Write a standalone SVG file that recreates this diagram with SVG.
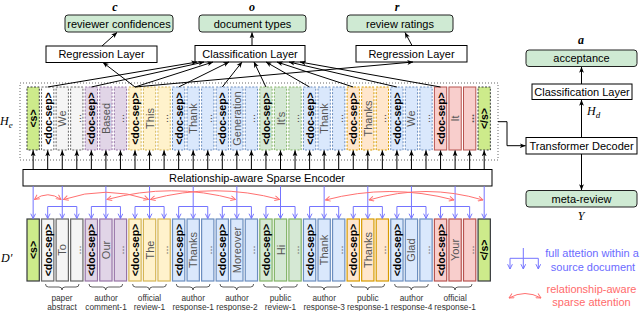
<svg xmlns="http://www.w3.org/2000/svg" width="640" height="311" viewBox="0 0 640 311">
<defs>
<style>
.box{fill:#fff;stroke:#000;stroke-width:1}
.out{fill:#cfead3;stroke:#222;stroke-width:1}
.lbl{font-family:"Liberation Sans",Arial,sans-serif;font-size:11px;fill:#000;text-anchor:middle}
.math{font-family:"Liberation Serif","Times New Roman",serif;font-style:italic;font-size:12px;fill:#000}
.lime{fill:#cdeb8b;stroke:#36393d}
.gray{fill:#f5f5f5;stroke:#666}
.purple{fill:#e1d5e7;stroke:#9673a6}
.yellow{fill:#fff2cc;stroke:#d6b656}
.blue{fill:#dae8fc;stroke:#6c8ebf}
.green{fill:#d5e8d4;stroke:#82b366}
.orange{fill:#ffe6cc;stroke:#d79b00}
.red{fill:#f8cecc;stroke:#b85450}
.top rect{stroke-width:1;stroke-dasharray:2,1.5}
.top rect.red{stroke-dasharray:none}
.bot rect{stroke-width:1.2}
.sep{font-family:"Liberation Sans",Arial,sans-serif;font-weight:bold;font-size:10.5px;fill:#000;text-anchor:middle;dominant-baseline:central}
.w{font-family:"Liberation Sans",Arial,sans-serif;font-size:11px;fill:#555;text-anchor:middle;dominant-baseline:central}
.blk{stroke:#000;stroke-width:1;fill:none;marker-end:url(#ah)}
.bl{stroke:#7474ff;stroke-width:1;fill:none}
.bla{stroke:#7474ff;stroke-width:1;fill:none;marker-end:url(#bh)}
.rd{stroke:#ff7070;stroke-width:1;fill:none;marker-start:url(#rh);marker-end:url(#rh)}
.brace{stroke:#333;stroke-width:0.8;fill:none}
.cap{font-family:"Liberation Sans",Arial,sans-serif;font-size:8.3px;fill:#333;text-anchor:middle}
</style>
<marker id="ah" viewBox="0 0 10 10" refX="9.5" refY="5" markerWidth="6" markerHeight="6" orient="auto" markerUnits="userSpaceOnUse"><path d="M0,1 L10,5 L0,9 L2.5,5 z" fill="#000"/></marker>
<marker id="bh" viewBox="0 0 10 10" refX="9" refY="5" markerWidth="6" markerHeight="6" orient="auto" markerUnits="userSpaceOnUse"><path d="M1,1 L9,5 L1,9" fill="none" stroke="#7474ff" stroke-width="1.6"/></marker>
<marker id="rh" viewBox="0 0 10 10" refX="9" refY="5" markerWidth="6" markerHeight="6" orient="auto-start-reverse" markerUnits="userSpaceOnUse"><path d="M1,1 L9,5 L1,9" fill="none" stroke="#ff7070" stroke-width="1.6"/></marker>
</defs>
<rect width="640" height="311" fill="#fff"/>

<!-- outputs -->
<g id="out-c"><text class="math" x="115" y="10.5" text-anchor="middle" font-weight="bold" font-size="11">c</text><rect class="out" x="65" y="15" width="108" height="17" rx="3"/><text class="lbl" x="119" y="27.5">reviewer confidences</text></g>
<g id="out-o"><text class="math" x="252" y="10.5" text-anchor="middle" font-weight="bold" font-size="11">o</text><rect class="out" x="199" y="15" width="107" height="17" rx="3"/><text class="lbl" x="252.5" y="27.5">document types</text></g>
<g id="out-r"><text class="math" x="397" y="10.5" text-anchor="middle" font-weight="bold" font-size="11">r</text><rect class="out" x="347" y="15" width="106" height="17" rx="3"/><text class="lbl" x="400" y="27.5">review ratings</text></g>
<g id="reg-left"><rect class="box" x="46" y="46" width="111" height="16.5"/><text class="lbl" x="101.5" y="58">Regression Layer</text></g>
<g id="cls"><rect class="box" x="195" y="45.5" width="110" height="16.5"/><text class="lbl" x="250" y="57.5">Classification Layer</text></g>
<g id="reg-right"><rect class="box" x="356" y="45.5" width="111" height="16.5"/><text class="lbl" x="411.5" y="57.5">Regression Layer</text></g>

<!-- right side -->
<g id="out-a"><text class="math" x="581" y="44" text-anchor="middle" font-weight="bold">a</text><rect class="out" x="526" y="50" width="111" height="16.5" rx="3"/><text class="lbl" x="581.5" y="62">acceptance</text></g>
<g id="cls-d"><rect class="box" x="532" y="84" width="100" height="15.5"/><text class="lbl" x="582" y="95.5">Classification Layer</text></g>
<g id="hd"><text class="math" x="587" y="115">H<tspan font-size="9" dy="2.5">d</tspan></text></g>
<g id="dec"><rect class="box" x="526" y="137.5" width="111" height="16.5"/><text class="lbl" x="581.5" y="149.5">Transformer Decoder</text></g>
<g id="meta"><rect class="out" x="526" y="190.5" width="111" height="16.5" rx="3"/><text class="lbl" x="581.5" y="202.5">meta-review</text><text class="math" x="581" y="220" text-anchor="middle">Y</text></g>

<!-- encoder -->
<g id="encoder"><rect class="box" x="23" y="169.5" width="469" height="16.5"/><text class="lbl" x="257" y="181.5">Relationship-aware Sparse Encoder</text></g>

<!-- He -->
<g id="he-label"><text class="math" x="0" y="125">H<tspan font-size="9" dy="2.5">e</tspan></text></g>
<rect x="20" y="83" width="478" height="77" fill="none" stroke="#666" stroke-width="1" stroke-dasharray="1,2"/>
<g class="top">
<g id="he0"><rect class="lime" x="27" y="87" width="12.3" height="63"/><text class="sep" transform="translate(33.15,118.5) rotate(-90)">&lt;s&gt;</text></g>
<g id="he1"><rect class="gray" x="41.55" y="87" width="12.3" height="63" style="fill:#fff"/><text class="sep" transform="translate(47.7,118.5) rotate(-90)">&lt;doc-sep&gt;</text></g>
<g id="he2"><rect class="gray" x="56.1" y="87" width="12.3" height="63"/><text class="w" transform="translate(62.25,118.5) rotate(-90)">We</text></g>
<g id="he3"><rect class="gray" x="70.65" y="87" width="12.3" height="63"/><text class="w" transform="translate(76.8,118.5) rotate(-90)">...</text></g>
<g id="he4"><rect class="purple" x="85.2" y="87" width="12.3" height="63"/><text class="sep" transform="translate(91.35,118.5) rotate(-90)">&lt;doc-sep&gt;</text></g>
<g id="he5"><rect class="purple" x="99.75" y="87" width="12.3" height="63"/><text class="w" transform="translate(105.9,118.5) rotate(-90)">Based</text></g>
<g id="he6"><rect class="purple" x="114.3" y="87" width="12.3" height="63"/><text class="w" transform="translate(120.45,118.5) rotate(-90)">...</text></g>
<g id="he7"><rect class="yellow" x="128.85" y="87" width="12.3" height="63"/><text class="sep" transform="translate(135,118.5) rotate(-90)">&lt;doc-sep&gt;</text></g>
<g id="he8"><rect class="yellow" x="143.4" y="87" width="12.3" height="63"/><text class="w" transform="translate(149.55,118.5) rotate(-90)">This</text></g>
<g id="he9"><rect class="yellow" x="157.95" y="87" width="12.3" height="63"/><text class="w" transform="translate(164.1,118.5) rotate(-90)">...</text></g>
<g id="he10"><rect class="blue" x="172.5" y="87" width="12.3" height="63"/><text class="sep" transform="translate(178.65,118.5) rotate(-90)">&lt;doc-sep&gt;</text></g>
<g id="he11"><rect class="blue" x="187.05" y="87" width="12.3" height="63"/><text class="w" transform="translate(193.2,118.5) rotate(-90)">Thank</text></g>
<g id="he12"><rect class="blue" x="201.6" y="87" width="12.3" height="63"/><text class="w" transform="translate(207.75,118.5) rotate(-90)">...</text></g>
<g id="he13"><rect class="blue" x="216.15" y="87" width="12.3" height="63"/><text class="sep" transform="translate(222.3,118.5) rotate(-90)">&lt;doc-sep&gt;</text></g>
<g id="he14"><rect class="blue" x="230.7" y="87" width="12.3" height="63"/><text class="w" transform="translate(236.85,118.5) rotate(-90)">Generation</text></g>
<g id="he15"><rect class="blue" x="245.25" y="87" width="12.3" height="63"/><text class="w" transform="translate(251.4,118.5) rotate(-90)">...</text></g>
<g id="he16"><rect class="green" x="259.8" y="87" width="12.3" height="63"/><text class="sep" transform="translate(265.95,118.5) rotate(-90)">&lt;doc-sep&gt;</text></g>
<g id="he17"><rect class="green" x="274.35" y="87" width="12.3" height="63"/><text class="w" transform="translate(280.5,118.5) rotate(-90)">It's</text></g>
<g id="he18"><rect class="green" x="288.9" y="87" width="12.3" height="63"/><text class="w" transform="translate(295.05,118.5) rotate(-90)">...</text></g>
<g id="he19"><rect class="blue" x="303.45" y="87" width="12.3" height="63"/><text class="sep" transform="translate(309.6,118.5) rotate(-90)">&lt;doc-sep&gt;</text></g>
<g id="he20"><rect class="blue" x="318" y="87" width="12.3" height="63"/><text class="w" transform="translate(324.15,118.5) rotate(-90)">Thank</text></g>
<g id="he21"><rect class="blue" x="332.55" y="87" width="12.3" height="63"/><text class="w" transform="translate(338.7,118.5) rotate(-90)">...</text></g>
<g id="he22"><rect class="orange" x="347.1" y="87" width="12.3" height="63"/><text class="sep" transform="translate(353.25,118.5) rotate(-90)">&lt;doc-sep&gt;</text></g>
<g id="he23"><rect class="orange" x="361.65" y="87" width="12.3" height="63"/><text class="w" transform="translate(367.8,118.5) rotate(-90)">Thanks</text></g>
<g id="he24"><rect class="orange" x="376.2" y="87" width="12.3" height="63"/><text class="w" transform="translate(382.35,118.5) rotate(-90)">...</text></g>
<g id="he25"><rect class="blue" x="390.75" y="87" width="12.3" height="63"/><text class="sep" transform="translate(396.9,118.5) rotate(-90)">&lt;doc-sep&gt;</text></g>
<g id="he26"><rect class="blue" x="405.3" y="87" width="12.3" height="63"/><text class="w" transform="translate(411.45,118.5) rotate(-90)">We</text></g>
<g id="he27"><rect class="blue" x="419.85" y="87" width="12.3" height="63"/><text class="w" transform="translate(426,118.5) rotate(-90)">...</text></g>
<g id="he28"><rect class="red" x="434.4" y="87" width="12.3" height="63"/><text class="sep" transform="translate(440.55,118.5) rotate(-90)">&lt;doc-sep&gt;</text></g>
<g id="he29"><rect class="red" x="448.95" y="87" width="12.3" height="63"/><text class="w" transform="translate(455.1,118.5) rotate(-90)">It</text></g>
<g id="he30"><rect class="red" x="463.5" y="87" width="12.3" height="63"/><text class="w" transform="translate(469.65,118.5) rotate(-90)" style="font-weight:bold">...</text></g>
<g id="he31"><rect class="lime" x="478.05" y="87" width="12.3" height="63"/><text class="sep" transform="translate(484.2,118.5) rotate(-90)">&lt;/s&gt;</text></g>
</g>

<!-- D' -->
<g id="d-label"><text class="math" x="1" y="262" font-size="13">D′</text></g>
<g class="bot">
<g id="d0"><rect class="lime" x="27" y="219" width="12.3" height="62"/><text class="sep" transform="translate(33.15,250) rotate(-90)">&lt;s&gt;</text></g>
<g id="d1"><rect class="gray" x="41.55" y="219" width="12.3" height="62"/><text class="sep" transform="translate(47.7,250) rotate(-90)">&lt;doc-sep&gt;</text></g>
<g id="d2"><rect class="gray" x="56.1" y="219" width="12.3" height="62"/><text class="w" transform="translate(62.25,250) rotate(-90)">To</text></g>
<g id="d3"><rect class="gray" x="70.65" y="219" width="12.3" height="62"/><text class="w" transform="translate(76.8,250) rotate(-90)">...</text></g>
<g id="d4"><rect class="purple" x="85.2" y="219" width="12.3" height="62"/><text class="sep" transform="translate(91.35,250) rotate(-90)">&lt;doc-sep&gt;</text></g>
<g id="d5"><rect class="purple" x="99.75" y="219" width="12.3" height="62"/><text class="w" transform="translate(105.9,250) rotate(-90)">Our</text></g>
<g id="d6"><rect class="purple" x="114.3" y="219" width="12.3" height="62"/><text class="w" transform="translate(120.45,250) rotate(-90)">...</text></g>
<g id="d7"><rect class="yellow" x="128.85" y="219" width="12.3" height="62"/><text class="sep" transform="translate(135,250) rotate(-90)">&lt;doc-sep&gt;</text></g>
<g id="d8"><rect class="yellow" x="143.4" y="219" width="12.3" height="62"/><text class="w" transform="translate(149.55,250) rotate(-90)">The</text></g>
<g id="d9"><rect class="yellow" x="157.95" y="219" width="12.3" height="62"/><text class="w" transform="translate(164.1,250) rotate(-90)">...</text></g>
<g id="d10"><rect class="blue" x="172.5" y="219" width="12.3" height="62"/><text class="sep" transform="translate(178.65,250) rotate(-90)">&lt;doc-sep&gt;</text></g>
<g id="d11"><rect class="blue" x="187.05" y="219" width="12.3" height="62"/><text class="w" transform="translate(193.2,250) rotate(-90)">Thanks</text></g>
<g id="d12"><rect class="blue" x="201.6" y="219" width="12.3" height="62"/><text class="w" transform="translate(207.75,250) rotate(-90)">...</text></g>
<g id="d13"><rect class="blue" x="216.15" y="219" width="12.3" height="62"/><text class="sep" transform="translate(222.3,250) rotate(-90)">&lt;doc-sep&gt;</text></g>
<g id="d14"><rect class="blue" x="230.7" y="219" width="12.3" height="62"/><text class="w" transform="translate(236.85,250) rotate(-90)">Moreover</text></g>
<g id="d15"><rect class="blue" x="245.25" y="219" width="12.3" height="62"/><text class="w" transform="translate(251.4,250) rotate(-90)">...</text></g>
<g id="d16"><rect class="green" x="259.8" y="219" width="12.3" height="62"/><text class="sep" transform="translate(265.95,250) rotate(-90)">&lt;doc-sep&gt;</text></g>
<g id="d17"><rect class="green" x="274.35" y="219" width="12.3" height="62"/><text class="w" transform="translate(280.5,250) rotate(-90)">Hi</text></g>
<g id="d18"><rect class="green" x="288.9" y="219" width="12.3" height="62"/><text class="w" transform="translate(295.05,250) rotate(-90)">...</text></g>
<g id="d19"><rect class="blue" x="303.45" y="219" width="12.3" height="62"/><text class="sep" transform="translate(309.6,250) rotate(-90)">&lt;doc-sep&gt;</text></g>
<g id="d20"><rect class="blue" x="318" y="219" width="12.3" height="62"/><text class="w" transform="translate(324.15,250) rotate(-90)">Thank</text></g>
<g id="d21"><rect class="blue" x="332.55" y="219" width="12.3" height="62"/><text class="w" transform="translate(338.7,250) rotate(-90)">...</text></g>
<g id="d22"><rect class="orange" x="347.1" y="219" width="12.3" height="62"/><text class="sep" transform="translate(353.25,250) rotate(-90)">&lt;doc-sep&gt;</text></g>
<g id="d23"><rect class="orange" x="361.65" y="219" width="12.3" height="62"/><text class="w" transform="translate(367.8,250) rotate(-90)">Thanks</text></g>
<g id="d24"><rect class="orange" x="376.2" y="219" width="12.3" height="62"/><text class="w" transform="translate(382.35,250) rotate(-90)">...</text></g>
<g id="d25"><rect class="blue" x="390.75" y="219" width="12.3" height="62"/><text class="sep" transform="translate(396.9,250) rotate(-90)">&lt;doc-sep&gt;</text></g>
<g id="d26"><rect class="blue" x="405.3" y="219" width="12.3" height="62"/><text class="w" transform="translate(411.45,250) rotate(-90)">Glad</text></g>
<g id="d27"><rect class="blue" x="419.85" y="219" width="12.3" height="62"/><text class="w" transform="translate(426,250) rotate(-90)">...</text></g>
<g id="d28"><rect class="red" x="434.4" y="219" width="12.3" height="62"/><text class="sep" transform="translate(440.55,250) rotate(-90)">&lt;doc-sep&gt;</text></g>
<g id="d29"><rect class="red" x="448.95" y="219" width="12.3" height="62"/><text class="w" transform="translate(455.1,250) rotate(-90)">Your</text></g>
<g id="d30"><rect class="red" x="463.5" y="219" width="12.3" height="62"/><text class="w" transform="translate(469.65,250) rotate(-90)">...</text></g>
<g id="d31"><rect class="lime" x="478.05" y="219" width="12.3" height="62"/><text class="sep" transform="translate(484.2,250) rotate(-90)">&lt;/s&gt;</text></g>
</g>

<!-- captions -->
<g id="captions">
<path class="brace" d="M45.5,284 q0,3 3,3 H59 q3,0 3,3 q0,-3 3,-3 H76 q3,0 3,-3"/>
<text class="cap" x="62" y="301">paper</text><text class="cap" x="62" y="309.5">abstract</text>
<path class="brace" d="M89,284 q0,3 3,3 H102.7 q3,0 3,3 q0,-3 3,-3 H119.6 q3,0 3,-3"/>
<text class="cap" x="106" y="301">author</text><text class="cap" x="106" y="309.5">comment-1</text>
<path class="brace" d="M132.6,284 q0,3 3,3 H146.4 q3,0 3,3 q0,-3 3,-3 H163.3 q3,0 3,-3"/>
<text class="cap" x="149.5" y="301">official</text><text class="cap" x="149.5" y="309.5">review-1</text>
<path class="brace" d="M176.3,284 q0,3 3,3 H190 q3,0 3,3 q0,-3 3,-3 H207 q3,0 3,-3"/>
<text class="cap" x="193.2" y="301">author</text><text class="cap" x="193.2" y="309.5">response-1</text>
<path class="brace" d="M220,284 q0,3 3,3 H233.7 q3,0 3,3 q0,-3 3,-3 H250.6 q3,0 3,-3"/>
<text class="cap" x="236.9" y="301">author</text><text class="cap" x="236.9" y="309.5">response-2</text>
<path class="brace" d="M263.6,284 q0,3 3,3 H277.3 q3,0 3,3 q0,-3 3,-3 H294.3 q3,0 3,-3"/>
<text class="cap" x="280.5" y="301">public</text><text class="cap" x="280.5" y="309.5">review-1</text>
<path class="brace" d="M307.3,284 q0,3 3,3 H321 q3,0 3,3 q0,-3 3,-3 H338 q3,0 3,-3"/>
<text class="cap" x="324.2" y="301">author</text><text class="cap" x="324.2" y="309.5">response-3</text>
<path class="brace" d="M350.9,284 q0,3 3,3 H364.7 q3,0 3,3 q0,-3 3,-3 H381.6 q3,0 3,-3"/>
<text class="cap" x="367.8" y="301">public</text><text class="cap" x="367.8" y="309.5">response-1</text>
<path class="brace" d="M394.6,284 q0,3 3,3 H408.3 q3,0 3,3 q0,-3 3,-3 H425.3 q3,0 3,-3"/>
<text class="cap" x="411.5" y="301">author</text><text class="cap" x="411.5" y="309.5">response-4</text>
<path class="brace" d="M438.2,284 q0,3 3,3 H452 q3,0 3,3 q0,-3 3,-3 H469 q3,0 3,-3"/>
<text class="cap" x="455.1" y="301">official</text><text class="cap" x="455.1" y="309.5">response-1</text>
</g>

<!-- legend -->
<g id="legend-full">
<path class="bl" d="M523.3,248 V258.3 M510,258.3 H538.3"/>
<path class="bla" d="M510,258.3 V269"/><path class="bla" d="M523.3,258.3 V269"/><path class="bla" d="M538.3,258.3 V269"/>
<text class="lbl" x="592" y="257" style="fill:#6b6bff">full attetion within a</text>
<text class="lbl" x="593" y="270.5" style="fill:#6b6bff">source document</text>
</g>
<g id="legend-sparse">
<path class="rd" d="M509,298 Q525,289 541,298"/>
<text class="lbl" x="591.5" y="292.5" style="fill:#ff6b6b">relationship-aware</text>
<text class="lbl" x="591.5" y="306" style="fill:#ff6b6b">sparse attention</text>
</g>

<!-- connectors -->
<g id="connectors">
<path class="blk" d="M102,46 L117,32.5"/>
<path class="blk" d="M252,45.5 V32.5"/>
<path class="blk" d="M412,45.5 L405,32.5"/>
<path class="blk" d="M47.7,87 L197,62"/>
<path class="blk" d="M91.35,87 L204,62"/>
<path class="blk" d="M135,87 L213,62"/>
<path class="blk" d="M178.65,87 L229,62"/>
<path class="blk" d="M222.3,87 L242,62"/>
<path class="blk" d="M265.95,87 L254,62"/>
<path class="blk" d="M309.6,87 L266,62"/>
<path class="blk" d="M353.25,87 L277,62"/>
<path class="blk" d="M396.9,87 L289,62"/>
<path class="blk" d="M440.55,87 L300,62"/>
<path class="blk" d="M135,87 L103,62.5"/>
<path class="blk" d="M135,87 L413,62"/>
<g id="enc-up">
<path class="blk" d="M33.15,169.5 V150.5"/><path class="blk" d="M47.7,169.5 V150.5"/><path class="blk" d="M62.25,169.5 V150.5"/><path class="blk" d="M76.8,169.5 V150.5"/>
<path class="blk" d="M91.35,169.5 V150.5"/><path class="blk" d="M105.9,169.5 V150.5"/><path class="blk" d="M120.45,169.5 V150.5"/><path class="blk" d="M135,169.5 V150.5"/>
<path class="blk" d="M149.55,169.5 V150.5"/><path class="blk" d="M164.1,169.5 V150.5"/><path class="blk" d="M178.65,169.5 V150.5"/><path class="blk" d="M193.2,169.5 V150.5"/>
<path class="blk" d="M207.75,169.5 V150.5"/><path class="blk" d="M222.3,169.5 V150.5"/><path class="blk" d="M236.85,169.5 V150.5"/><path class="blk" d="M251.4,169.5 V150.5"/>
<path class="blk" d="M265.95,169.5 V150.5"/><path class="blk" d="M280.5,169.5 V150.5"/><path class="blk" d="M295.05,169.5 V150.5"/><path class="blk" d="M309.6,169.5 V150.5"/>
<path class="blk" d="M324.15,169.5 V150.5"/><path class="blk" d="M338.7,169.5 V150.5"/><path class="blk" d="M353.25,169.5 V150.5"/><path class="blk" d="M367.8,169.5 V150.5"/>
<path class="blk" d="M382.35,169.5 V150.5"/><path class="blk" d="M396.9,169.5 V150.5"/><path class="blk" d="M411.45,169.5 V150.5"/><path class="blk" d="M426,169.5 V150.5"/>
<path class="blk" d="M440.55,169.5 V150.5"/><path class="blk" d="M455.1,169.5 V150.5"/><path class="blk" d="M469.65,169.5 V150.5"/><path class="blk" d="M484.2,169.5 V150.5"/>
</g>
<path class="blk" d="M498,121.7 H507 V145.7 H525.5"/>
<path class="blk" d="M581.5,137.5 V100"/>
<path class="blk" d="M581.5,84 V67"/>
<path class="blk" d="M581.5,154 V190"/>
<g id="full-attn">
<path class="bla" d="M33.15,186 V218.5"/>
<path class="bla" d="M484.2,186 V218.5"/>
<path class="bla" d="M62.25,186 V218.5"/><path class="bl" d="M47.7,206.5 H76.8"/><path class="bla" d="M47.7,206.5 V218.5"/><path class="bla" d="M76.8,206.5 V218.5"/>
<path class="bla" d="M105.9,186 V218.5"/><path class="bl" d="M91.35,206.5 H120.45"/><path class="bla" d="M91.35,206.5 V218.5"/><path class="bla" d="M120.45,206.5 V218.5"/>
<path class="bla" d="M149.55,186 V218.5"/><path class="bl" d="M135,206.5 H164.1"/><path class="bla" d="M135,206.5 V218.5"/><path class="bla" d="M164.1,206.5 V218.5"/>
<path class="bla" d="M193.2,186 V218.5"/><path class="bl" d="M178.65,206.5 H207.75"/><path class="bla" d="M178.65,206.5 V218.5"/><path class="bla" d="M207.75,206.5 V218.5"/>
<path class="bla" d="M236.85,186 V218.5"/><path class="bl" d="M222.3,206.5 H251.4"/><path class="bla" d="M222.3,206.5 V218.5"/><path class="bla" d="M251.4,206.5 V218.5"/>
<path class="bla" d="M280.5,186 V218.5"/><path class="bl" d="M265.95,206.5 H295.05"/><path class="bla" d="M265.95,206.5 V218.5"/><path class="bla" d="M295.05,206.5 V218.5"/>
<path class="bla" d="M324.15,186 V218.5"/><path class="bl" d="M309.6,206.5 H338.7"/><path class="bla" d="M309.6,206.5 V218.5"/><path class="bla" d="M338.7,206.5 V218.5"/>
<path class="bla" d="M367.8,186 V218.5"/><path class="bl" d="M353.25,206.5 H382.35"/><path class="bla" d="M353.25,206.5 V218.5"/><path class="bla" d="M382.35,206.5 V218.5"/>
<path class="bla" d="M411.45,186 V218.5"/><path class="bl" d="M396.9,206.5 H426"/><path class="bla" d="M396.9,206.5 V218.5"/><path class="bla" d="M426,206.5 V218.5"/>
<path class="bla" d="M455.1,186 V218.5"/><path class="bl" d="M440.55,206.5 H469.65"/><path class="bla" d="M440.55,206.5 V218.5"/><path class="bla" d="M469.65,206.5 V218.5"/>
</g>
<g id="sparse-attn">
<path class="rd" d="M34.5,199.5 Q48,190 61,199.5"/>
<path class="rd" d="M63.5,199.5 Q106,185 148.5,199.5"/>
<path class="rd" d="M107,199.5 Q172,182 235.5,199.5"/>
<path class="rd" d="M150.5,199.5 Q215,182 279.5,199.5"/>
<path class="rd" d="M325.5,200 Q390,183 454,200"/>
<path class="rd" d="M369,200 Q426,183 483,200"/>
</g>
</g>
</svg>
